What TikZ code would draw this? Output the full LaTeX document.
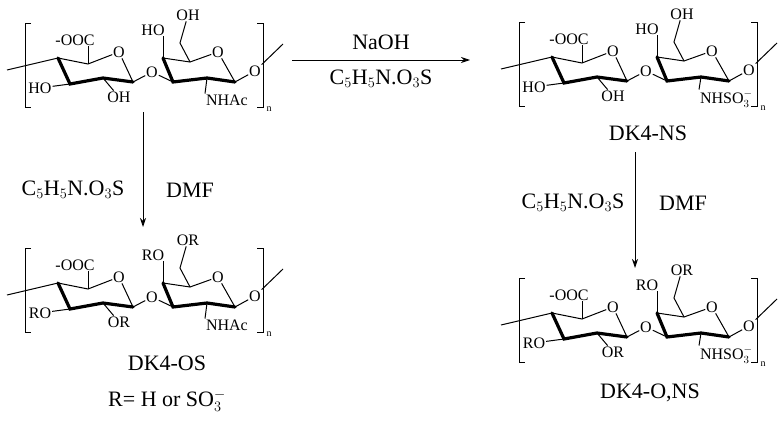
\documentclass[tikz,border=0pt]{standalone}
\usepackage{fontspec}
\setmainfont{Liberation Serif}
\usetikzlibrary{arrows.meta}
\newcommand\atfs{\fontsize{16}{16}\selectfont}
\newcommand\bigfs{\fontsize{22}{22}\selectfont}
\tikzset{
 bd/.style={line width=1pt},
 bb/.style={line width=3.2pt, line cap=round},
 atom/.style={inner sep=0.8pt, font=\atfs},
 lab/.style={inner sep=0pt, font=\bigfs},
 arr/.style={line width=0.9pt,-{Stealth[length=9pt,width=6pt]}},
}
\newcommand\hunit[8]{%
\begin{scope}[shift={(#2,#3)}]
 \coordinate (#1s) at (7,70);
 \coordinate (#1c4) at (58,58); \coordinate (#1c5) at (88,64);
 \coordinate (#1c1) at (133,82); \coordinate (#1c2) at (103,78); \coordinate (#1c3) at (70,84);
 \node[atom] (#1o5) at (119,52) {O};
 \node[atom] (#1og) at (152,72) {O};
 \coordinate (#1d3) at (173,82); \coordinate (#1d4) at (163,58); \coordinate (#1d5) at (190,62);
 \coordinate (#1d1) at (235,82); \coordinate (#1d2) at (207,78);
 \node[atom] (#1o5b) at (218,52) {O};
 \node[atom] (#1o1) at (255,71) {O};
 \coordinate (#1e) at (283,44);
 \coordinate (#1c6) at (180,43);
 \node[atom] (#1cooc) at (75,40) {-OOC};
 \node[atom] (#1r3) at (40,88) {#4};
 \node[atom] (#1r2) at (119,97) {#5};
 \node[atom] (#1r4) at (153,30) {#6};
 \node[atom] (#1r6) at (188,15) {#7};
 \node[atom,anchor=west] (#1n) at (205,100) {#8};
 \draw[bd] (#1s) -- (#1c4) -- (#1c5) -- (#1o5) -- (#1c1);
 \draw[bb] (#1c4) -- (#1c3) -- (#1c2) -- (#1c1);
 \draw[bd] (#1c5) -- (#1c5|-#1cooc.south);
 \draw[bd] (#1c3) -- (#1r3); \draw[bd] (#1c2) -- (#1r2);
 \draw[bd] (#1c1) -- (#1og) -- (#1d3);
 \draw[bd] (#1d4) -- (#1d5) -- (#1o5b) -- (#1d1);
 \draw[bb] (#1d4) -- (#1d3) -- (#1d2) -- (#1d1);
 \draw[bd] (#1d4) -- (#1d4|-#1r4.south);
 \draw[bd] (#1d5) -- (#1c6) -- (#1r6);
 \draw[bd] (#1d2) -- (#1n.north west);
 \draw[bd] (#1d1) -- (#1o1) -- (#1e);
 \draw[line width=0.8pt] (31,23) -- (25,23) -- (25,107) -- (31,107);
 \draw[line width=0.8pt] (257,23) -- (263,23) -- (263,107) -- (257,107);
 \node[inner sep=0pt,font=\fontsize{10}{10}\selectfont] (#1nn) at (269,109) {n};
\end{scope}}
\begin{document}
\begin{tikzpicture}[x=1pt,y=-1pt]
\useasboundingbox (0,0) rectangle (778,428);
\hunit{a}{0}{0}{HO}{OH}{HO}{OH}{NHAc}
\hunit{b}{494}{-1}{HO}{OH}{HO}{OH}{NHSO$_3^-$}
\hunit{c}{0}{225}{RO}{OR}{RO}{OR}{NHAc}
\hunit{d}{494}{255}{RO}{OR}{RO}{OR}{NHSO$_3^-$}
\node[lab] (ns) at (648,133) {DK4-NS};
\node[lab] (os) at (167,363) {DK4-OS};
\node[lab] (rr) at (167,401) {R= H or SO$_3^-$};
\node[lab] (ons) at (650,393) {DK4-O,NS};
\coordinate (h1) at (292,60); \coordinate (h2) at (470,60);
\draw[arr] (h1) -- (h2);
\node[lab] (naoh) at (381,42) {NaOH};
\node[lab] (r1) at (381,79) {C$_5$H$_5$N.O$_3$S};
\coordinate (v1) at (143,112); \coordinate (v2) at (143,227);
\draw[arr] (v1) -- (v2);
\node[lab] (r2) at (73,190) {C$_5$H$_5$N.O$_3$S};
\node[lab] (m2) at (190,190) {DMF};
\coordinate (w1) at (635,152); \coordinate (w2) at (635,268);
\draw[arr] (w1) -- (w2);
\node[lab] (r3) at (573,203) {C$_5$H$_5$N.O$_3$S};
\node[lab] (m3) at (683,203) {DMF};
\end{tikzpicture}
\end{document}
